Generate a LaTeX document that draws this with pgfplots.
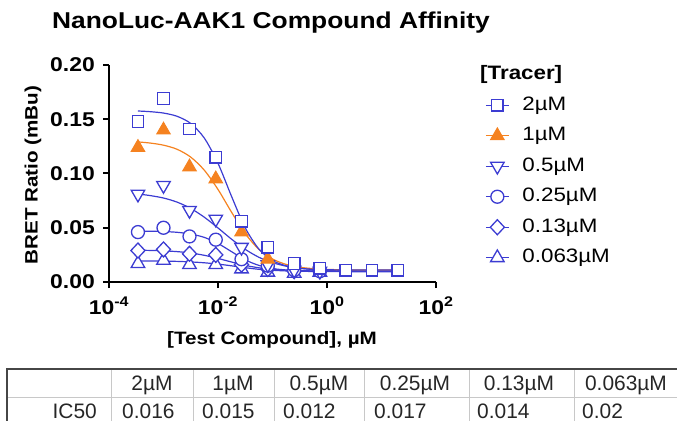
\documentclass[border=0pt]{standalone}
\usepackage{fontspec}
\setmainfont{Liberation Sans}
\newfontfamily\chartfont{Liberation Sans}[FakeStretch=1.15]
\usepackage{pgfplots}
\pgfplotsset{compat=1.18}
\definecolor{pblue}{RGB}{60,60,210}
\definecolor{porange}{RGB}{245,130,32}
\definecolor{tdark}{RGB}{70,70,70}
\definecolor{tlight}{RGB}{200,200,200}
\pgfplotsset{
  serA/.style={pblue, line width=1.2bp, mark=square*, mark size=5.8bp, mark options={draw=pblue, fill=white, line width=1.3bp, solid}},
  serB/.style={porange, line width=1.2bp, mark=triangle*, mark size=7.8bp, mark options={draw=porange, fill=porange, line width=1bp, solid}},
  serC/.style={pblue, line width=1.2bp, mark=triangle*, mark size=7.8bp, mark options={draw=pblue, rotate=180, fill=white, line width=1.3bp, solid}},
  serD/.style={pblue, line width=1.2bp, mark=*, mark size=6.5bp, mark options={draw=pblue, fill=white, line width=1.3bp, solid}},
  serE/.style={pblue, line width=1.2bp, mark=diamond*, mark size=7.5bp, mark options={draw=pblue, fill=white, line width=1.3bp, solid, xscale=1.25}},
  serF/.style={pblue, line width=1.2bp, mark=triangle*, mark size=7.8bp, mark options={draw=pblue, fill=white, line width=1.3bp, solid}},
  fit/.style={line width=1.2bp, smooth, no marks, forget plot},
}
\begin{document}
\begin{tikzpicture}
\useasboundingbox (0,0) rectangle (677bp,421bp);
\node[font=\chartfont\bfseries\fontsize{23}{26}\selectfont] at (271bp,398bp) {NanoLuc-AAK1 Compound Affinity};
\begin{axis}[
  at={(109bp,139bp)}, anchor=south west,
  scale only axis, width=327bp, height=217bp,
  xmode=log, xmin=1e-4, xmax=100, ymin=0, ymax=0.2,
  axis lines*=left,
  axis line style={line width=2bp, black},
  tick align=outside, major tick length=6bp,
  tick style={line width=2bp, black},
  xminorticks=false, yminorticks=false,
  xtick={1e-4,1e-2,1,100},
  xticklabels={10\textsuperscript{-4},10\textsuperscript{-2},10\textsuperscript{0},10\textsuperscript{2}},
  ytick={0,0.05,0.1,0.15,0.2},
  yticklabels={0.00,0.05,0.10,0.15,0.20},
  xticklabel style={font=\chartfont\bfseries\fontsize{20}{22}\selectfont, inner sep=0pt, yshift=-9bp},
  yticklabel style={font=\chartfont\bfseries\fontsize{20}{22}\selectfont, inner sep=0pt, xshift=-8bp},
  clip=false,
  legend image code/.code={\draw[mark repeat=2,mark phase=2] plot coordinates {(0bp,0bp) (11.5bp,0bp) (23bp,0bp)};},
  legend cell align=left,
  legend style={draw=none, fill=none, inner sep=0pt, at={(axis description cs:1.15,0.857)}, anchor=north west,
    row sep=12.5bp, column sep=13bp, font=\chartfont\fontsize{19.5}{22}\selectfont,
    nodes={inner sep=0pt, text height=14bp, text depth=4bp, anchor=west}},
]
\addlegendimage{serA}\addlegendentry{2µM}
\addlegendimage{serB}\addlegendentry{1µM}
\addlegendimage{serC}\addlegendentry{0.5µM}
\addlegendimage{serD}\addlegendentry{0.25µM}
\addlegendimage{serE}\addlegendentry{0.13µM}
\addlegendimage{serF}\addlegendentry{0.063µM}

% fitted curves
\addplot[fit, pblue] coordinates {(0.00034,0.0194)(0.000562,0.0194)(0.001,0.0192)(0.00178,0.0190)(0.00316,0.0185)(0.00562,0.0177)(0.01,0.0165)(0.0178,0.0149)(0.0316,0.0132)(0.0562,0.0117)(0.1,0.0108)(0.178,0.0102)(0.316,0.0099)(0.562,0.0097)(1,0.0096)(3.16,0.0095)(20,0.0095)};
\addplot[fit, pblue] coordinates {(0.00034,0.0293)(0.000562,0.0291)(0.001,0.0287)(0.00178,0.0280)(0.00316,0.0267)(0.00562,0.0246)(0.01,0.0217)(0.0178,0.0184)(0.0316,0.0153)(0.0562,0.0131)(0.1,0.0117)(0.178,0.0109)(0.316,0.0105)(0.562,0.0102)(1,0.0101)(3.16,0.0100)(20,0.0100)};
\addplot[fit, pblue] coordinates {(0.00034,0.0469)(0.000562,0.0468)(0.001,0.0465)(0.00178,0.0458)(0.00316,0.0442)(0.00562,0.0411)(0.01,0.0355)(0.0178,0.0279)(0.0316,0.0204)(0.0562,0.0153)(0.1,0.0124)(0.178,0.0111)(0.316,0.0105)(0.562,0.0102)(1,0.0101)(3.16,0.0100)(20,0.0100)};
\addplot[fit, pblue] coordinates {(0.00034,0.0811)(0.000562,0.0797)(0.001,0.0774)(0.00178,0.0736)(0.00316,0.0678)(0.00562,0.0597)(0.01,0.0498)(0.0178,0.0394)(0.0316,0.0301)(0.0562,0.0228)(0.1,0.0178)(0.178,0.0146)(0.316,0.0127)(0.562,0.0115)(1,0.0109)(3.16,0.0103)(20,0.0100)};
\addplot[fit, porange] coordinates {(0.00034,0.1291)(0.000562,0.1281)(0.001,0.1261)(0.00178,0.1223)(0.00316,0.1151)(0.00562,0.1030)(0.01,0.0853)(0.0178,0.0642)(0.0316,0.0446)(0.0562,0.0301)(0.1,0.0212)(0.178,0.0162)(0.316,0.0136)(0.562,0.0123)(1,0.0116)(3.16,0.0111)(20,0.0110)};
\addplot[fit, pblue] coordinates {(0.00034,0.1576)(0.000562,0.1570)(0.001,0.1557)(0.00178,0.1527)(0.00316,0.1461)(0.00562,0.1326)(0.01,0.1094)(0.0178,0.0787)(0.0316,0.0499)(0.0562,0.0304)(0.1,0.0198)(0.178,0.0149)(0.316,0.01265)(0.562,0.0117)(1,0.0113)(3.16,0.0110)(20,0.0110)};

% data points
\addplot[serF, only marks, forget plot] coordinates {(0.00034,0.017)(0.001,0.020)(0.003,0.016)(0.0091,0.016)(0.027,0.012)(0.082,0.009)(0.25,0.008)(0.74,0.009)};
\addplot[serE, only marks, forget plot] coordinates {(0.00034,0.029)(0.001,0.030)(0.003,0.026)(0.0091,0.025)(0.027,0.016)(0.082,0.012)(0.25,0.010)(0.74,0.010)};
\addplot[serD, only marks, forget plot] coordinates {(0.00034,0.046)(0.001,0.050)(0.003,0.042)(0.0091,0.039)(0.027,0.021)(0.082,0.015)(0.25,0.011)(0.74,0.010)};
\addplot[serC, only marks, forget plot] coordinates {(0.00034,0.081)(0.001,0.089)(0.003,0.066)(0.0091,0.058)(0.027,0.032)(0.082,0.016)(0.25,0.011)(0.74,0.010)};
\addplot[serB, only marks, forget plot] coordinates {(0.00034,0.124)(0.001,0.140)(0.003,0.106)(0.0091,0.095)(0.027,0.046)(0.082,0.021)};
\addplot[serA, only marks, forget plot] coordinates {(0.00034,0.148)(0.001,0.169)(0.003,0.141)(0.0091,0.115)(0.027,0.056)(0.082,0.032)(0.25,0.017)(0.74,0.0127)(2.2,0.011)(6.7,0.011)(20,0.011)};
\end{axis}
% axis labels and legend title
\node[font=\chartfont\bfseries\fontsize{18}{21}\selectfont, anchor=base] at (272bp,76bp) {[Test Compound], µM};
\node[font=\chartfont\bfseries\fontsize{18}{21}\selectfont, rotate=90] at (33bp,246bp) {BRET Ratio (mBu)};
\node[font=\chartfont\bfseries\fontsize{19.5}{22}\selectfont, anchor=west, inner sep=0pt] at (480bp,347bp) {[Tracer]};
% table
\draw[tlight, line width=1bp] (7bp,23bp) -- (677bp,23bp);
\foreach \cx in {111,193,274,364,469,574} {\draw[tlight, line width=1bp] (\cx bp,52bp) -- (\cx bp,0bp);}
\draw[tdark, line width=1.5bp] (677bp,52bp) -- (7bp,52bp) -- (7bp,0bp);
\begin{scope}[every node/.style={font=\fontsize{21}{24}\selectfont, inner sep=0pt, text=black!85}]
\node[anchor=base] at (152bp,31bp) {2µM};
\node[anchor=base] at (233bp,31bp) {1µM};
\node[anchor=base] at (319bp,31bp) {0.5µM};
\node[anchor=base] at (415bp,31bp) {0.25µM};
\node[anchor=base] at (519bp,31bp) {0.13µM};
\node[anchor=base] at (626bp,31bp) {0.063µM};
\node[anchor=base east] at (97bp,3bp) {IC50};
\node[anchor=base west] at (122bp,3bp) {0.016};
\node[anchor=base west] at (202bp,3bp) {0.015};
\node[anchor=base west] at (283bp,3bp) {0.012};
\node[anchor=base west] at (374bp,3bp) {0.017};
\node[anchor=base west] at (477bp,3bp) {0.014};
\node[anchor=base west] at (582bp,3bp) {0.02};
\end{scope}
\end{tikzpicture}
\end{document}
